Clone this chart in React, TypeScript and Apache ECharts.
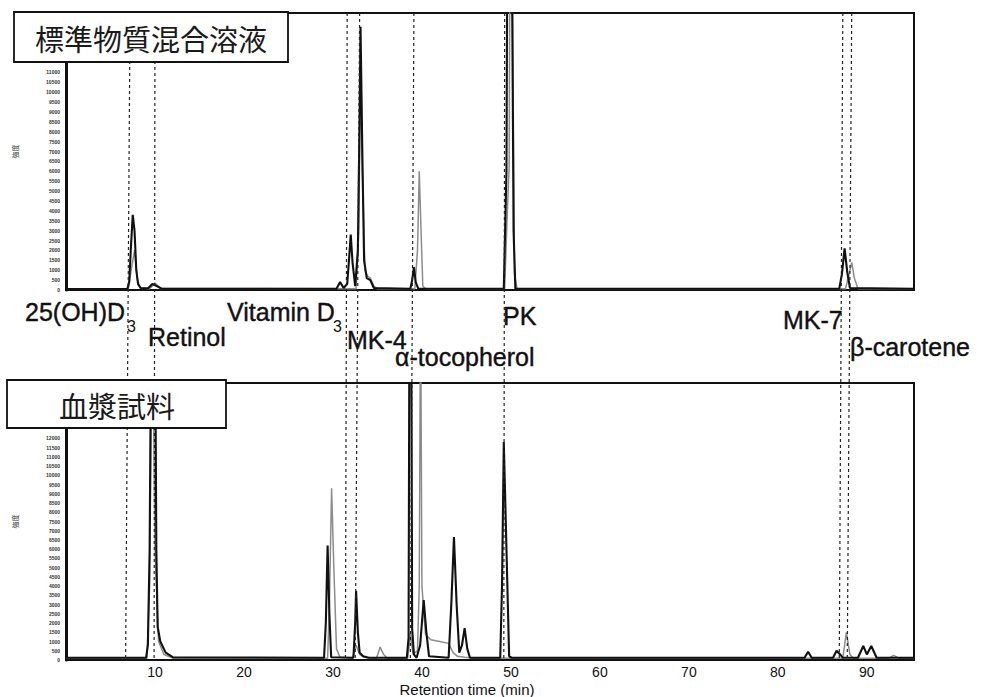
import React, { useEffect, useRef } from "react";
import * as echarts from "echarts";

// Retention time axis (min)
const X_MAX = 95.3;
const X_TICKS = [10, 20, 30, 40, 50, 60, 70, 80, 90];

// Reference retention times of the standards (top edge / bottom edge of the guide lines)
const compoundNames = ["25(OH)D3", "Retinol", "Vitamin D3", "MK-4", "α-tocopherol", "PK", "MK-7", "β-carotene"];
const refTimeTop = [7.2, 10.0, 31.6, 33.0, 39.1, 49.3, 87.3, 88.3];
const refTimeBottom = [6.7, 9.9, 31.4, 32.5, 38.7, 49.2, 86.9, 87.8];

// Standard mixture, two detector channels [min, signal]
const stdBlack: [number, number][] = [
  [0, 0.5], [6.9, 0.5], [7.1, 4], [7.3, 22], [7.5, 38], [7.7, 30], [7.9, 10], [8.1, 3], [8.4, 1],
  [9.2, 0.8], [9.7, 3], [10.2, 2], [10.8, 0.6],
  [30.4, 0.6], [30.8, 4], [31.2, 1], [31.6, 3], [31.8, 15], [32.0, 28], [32.2, 14], [32.5, 2],
  [32.8, 20], [33.0, 90], [33.1, 133], [33.3, 70], [33.5, 15], [33.8, 6], [34.2, 5], [34.6, 1],
  [38.7, 0.6], [38.9, 5], [39.1, 11.5], [39.3, 4], [39.6, 0.6],
  [49.2, 0.6], [49.5, 60], [49.6, 180], [50.1, 180], [50.3, 30], [50.5, 0.6],
  [86.9, 0.6], [87.2, 8], [87.5, 21], [87.8, 9], [88.1, 1], [95.3, 0.6],
];
const stdGray: [number, number][] = [
  [0, 0.5], [7.0, 0.5], [7.4, 12], [7.7, 20], [8.0, 6], [8.3, 1],
  [9.4, 0.6], [10.0, 3.5], [10.6, 0.8],
  [32.6, 0.6], [32.9, 30], [33.1, 110], [33.3, 60], [33.6, 10], [33.9, 7], [34.2, 6], [34.6, 2], [35, 0.6],
  [39.2, 0.6], [39.5, 20], [39.7, 60], [39.9, 30], [40.1, 2], [40.4, 0.6],
  [49.3, 0.6], [49.6, 40], [49.8, 62], [49.9, 190], [50.1, 190], [50.4, 8], [50.7, 0.6],
  [87.6, 0.6], [88.0, 8], [88.3, 14], [88.6, 6], [89.0, 0.6], [95.3, 0.6],
];

// Plasma sample, two detector channels [min, signal]
const plasmaBlack: [number, number][] = [
  [0, 1.2], [6, 1.2], [9.0, 1.2], [9.2, 8], [9.4, 60], [9.6, 200], [10.0, 200], [10.15, 60], [10.3, 18],
  [10.6, 10], [11.2, 4], [12, 1.5],
  [29.0, 1.2], [29.2, 20], [29.4, 62], [29.6, 25], [29.8, 1.5],
  [32.3, 1.2], [32.5, 20], [32.6, 37.5], [32.8, 15], [33.0, 4], [33.4, 2], [34, 1.2],
  [38.3, 1.2], [38.5, 12], [38.6, 200], [38.8, 200], [38.9, 17], [39.1, 3], [39.4, 1.2],
  [39.8, 8], [40.2, 32.5], [40.5, 15], [40.8, 2],
  [43.0, 1.2], [43.3, 30], [43.6, 66.6], [43.9, 30], [44.2, 4], [44.5, 8], [44.8, 17.3], [45.1, 6], [45.4, 1.2],
  [48.8, 1.2], [49.0, 40], [49.2, 118], [49.5, 60], [49.8, 2], [50.1, 1.2],
  [83.0, 1.2], [83.4, 4.5], [83.8, 1.2],
  [86.2, 1.2], [86.6, 5], [87.0, 3], [87.3, 1.2],
  [89.0, 1.2], [89.6, 7.6], [90.0, 3], [90.5, 7.6], [91.1, 1.2], [95.3, 1.2],
];
const plasmaGray: [number, number][] = [
  [0, 1], [9.1, 1], [9.4, 40], [9.7, 200], [10.0, 60], [10.4, 10], [11, 3], [12, 1],
  [29.4, 1], [29.6, 30], [29.85, 93], [30.1, 50], [30.4, 6], [30.8, 1.5],
  [32.2, 1], [32.6, 8], [33, 3], [33.5, 1.5],
  [34.9, 1], [35.3, 7], [35.7, 3], [36.1, 1],
  [38.4, 1], [38.7, 14], [39.0, 3], [39.5, 5], [39.7, 40], [39.85, 200], [40.0, 40], [40.4, 14],
  [41, 11], [42, 10], [43, 9], [43.5, 4], [44, 2], [44.8, 1.5], [46, 1],
  [87.3, 1], [87.7, 15], [88.1, 3], [88.5, 1],
  [92.5, 1], [93.0, 2.5], [93.6, 1], [95.3, 1],
];

const FONT = "'Liberation Sans', Arial, sans-serif";
const CJK = "'Noto Sans CJK JP', sans-serif";
const INK = "#111111";
const GRAY = "#8c8c8c";

const PLOT_LEFT = 66;
const PLOT_WIDTH = 848;

function traceSeries(data: [number, number][], idx: number, color: string, width: number) {
  return {
    type: "line",
    xAxisIndex: idx,
    yAxisIndex: idx,
    data,
    symbol: "none",
    clip: true,
    lineStyle: { color, width },
    z: color === INK ? 3 : 2,
  };
}

// labelCeil: tick labels above this value sit under the sample-name box and are left blank
function yAxisFor(idx: number, max: number, labelCeil: number) {
  return {
    gridIndex: idx,
    type: "value",
    min: 0,
    max,
    interval: 5,
    name: "強度",
    nameLocation: "middle",
    nameRotate: 90,
    nameGap: 48,
    nameTextStyle: { fontSize: 7, color: "#333", fontFamily: CJK },
    axisLine: { show: true, lineStyle: { color: INK, width: 3 } },
    axisTick: { show: false },
    splitLine: { show: false },
    axisLabel: {
      fontSize: 5,
      fontWeight: "bold",
      margin: 6,
      color: "#333",
      fontFamily: FONT,
      formatter: (v: number) => (v > labelCeil ? "" : `${v * 100}`),
    },
  };
}

// Labels for the guide lines; positions in pixels
const labelLayout = [
  { x: 25, y: 312, sub: 127 },
  { x: 148, y: 337 },
  { x: 227, y: 312, sub: 333 },
  { x: 347, y: 340 },
  { x: 395, y: 357 },
  { x: 503, y: 316 },
  { x: 783, y: 320 },
  { x: 850, y: 347 },
];

function compoundLabels() {
  const out: any[] = [];
  compoundNames.forEach((name, i) => {
    const pos = labelLayout[i];
    const hasSub = name.endsWith("D3");
    out.push({
      type: "text",
      x: pos.x,
      y: pos.y,
      z: 10,
      style: {
        text: hasSub ? name.slice(0, -1) : name,
        fontSize: 25,
        fontFamily: FONT,
        fill: "#111",
        stroke: "#111",
        lineWidth: 0.4,
        verticalAlign: "middle",
        align: "left",
      },
    });
    if (hasSub) {
      out.push({
        type: "text",
        x: pos.sub,
        y: pos.y + 14,
        z: 10,
        style: { text: "3", fontSize: 16, fontFamily: FONT, fill: "#111", verticalAlign: "middle", align: "left" },
      });
    }
  });
  return out;
}

const option: any = {
  animation: false,
  backgroundColor: "#ffffff",
  grid: [
    { left: PLOT_LEFT, width: PLOT_WIDTH, top: 13, height: 277, show: true, borderColor: INK, borderWidth: 2 },
    { left: PLOT_LEFT, width: PLOT_WIDTH, top: 383, height: 277, show: true, borderColor: INK, borderWidth: 2 },
    { left: PLOT_LEFT, width: PLOT_WIDTH, top: 13, height: 647, show: false },
  ],
  xAxis: [
    {
      gridIndex: 0, type: "value", min: 0, max: X_MAX, interval: 10,
      axisLine: { lineStyle: { color: INK, width: 2 } },
      axisTick: { show: false }, axisLabel: { show: false }, splitLine: { show: false },
    },
    {
      gridIndex: 1, type: "value", min: 0, max: X_MAX, interval: 10,
      axisLine: { lineStyle: { color: INK, width: 2 } },
      axisTick: { show: false }, splitLine: { show: false },
      axisLabel: {
        fontSize: 14, lineHeight: 14, color: "#111", fontFamily: FONT, margin: 5,
        showMinLabel: false, showMaxLabel: false,
        formatter: (v: number) => (X_TICKS.includes(v) ? `${v}` : ""),
      },
    },
    { gridIndex: 2, type: "value", min: 0, max: X_MAX, show: false },
  ],
  yAxis: [
    yAxisFor(0, 140, 110),
    yAxisFor(1, 150, 120),
    { gridIndex: 2, type: "value", min: 0, max: 1, show: false },
  ],
  series: [
    traceSeries(stdGray, 0, GRAY, 1.5),
    traceSeries(stdBlack, 0, INK, 2.1),
    traceSeries(plasmaGray, 1, GRAY, 1.5),
    traceSeries(plasmaBlack, 1, INK, 2.1),
    {
      type: "line",
      xAxisIndex: 2,
      yAxisIndex: 2,
      data: [[0, 0]],
      symbol: "none",
      lineStyle: { opacity: 0 },
      silent: true,
      markLine: {
        symbol: ["none", "none"],
        silent: true,
        label: { show: false },
        lineStyle: { color: "#222", width: 1.2, type: [3, 3] },
        data: refTimeTop.map((t, i) => [{ coord: [t, 1] }, { coord: [refTimeBottom[i], 0] }]),
      },
      z: 4,
    },
  ],
  graphic: [
    {
      type: "rect", z: 20,
      shape: { x: 14, y: 12, width: 274, height: 50 },
      style: { fill: "#fff", stroke: INK, lineWidth: 1.8 },
    },
    {
      type: "text", z: 21, x: 151, y: 38,
      style: { text: "標準物質混合溶液", fontSize: 29, fontFamily: CJK, fill: "#1a1a1a", align: "center", verticalAlign: "middle" },
    },
    {
      type: "rect", z: 20,
      shape: { x: 7, y: 380, width: 219, height: 48 },
      style: { fill: "#fff", stroke: INK, lineWidth: 1.8 },
    },
    {
      type: "text", z: 21, x: 117, y: 405,
      style: { text: "血漿試料", fontSize: 29, fontFamily: CJK, fill: "#1a1a1a", align: "center", verticalAlign: "middle" },
    },
    {
      type: "text", z: 10, x: 467, y: 689,
      style: { text: "Retention time (min)", fontSize: 15, lineHeight: 15, fontFamily: FONT, fill: "#111", align: "center", verticalAlign: "middle" },
    },
    ...compoundLabels(),
  ],
};

export default function App() {
  const ref = useRef<HTMLDivElement>(null);
  useEffect(() => {
    document.body.style.margin = "0";
    const chart = echarts.init(ref.current!, null, { renderer: "svg" });
    chart.setOption(option);
    return () => chart.dispose();
  }, []);
  return <div ref={ref} style={{ width: 982, height: 697 }} />;
}
